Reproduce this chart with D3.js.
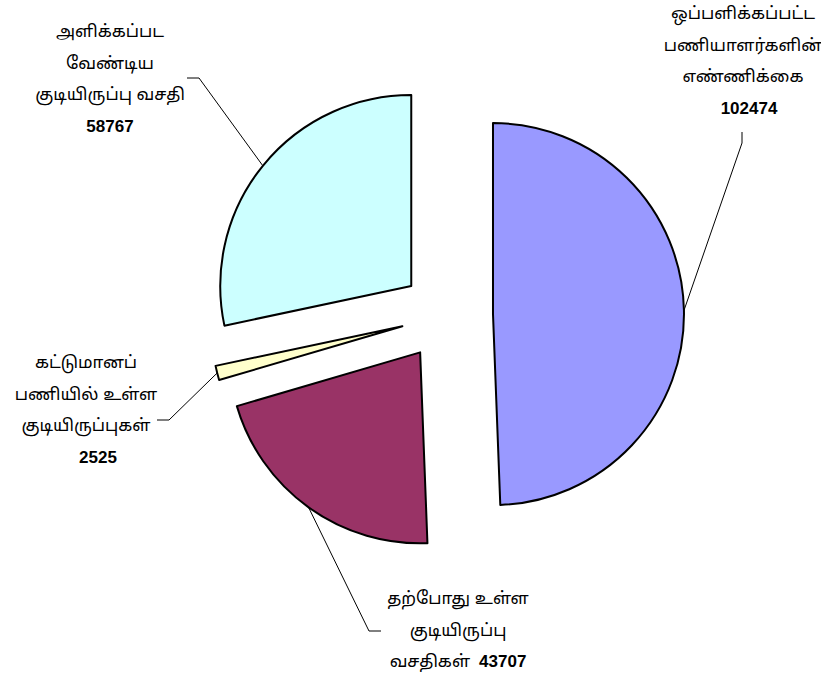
<!DOCTYPE html>
<html>
<head>
<meta charset="utf-8">
<script src="https://d3js.org/d3.v7.min.js"></script>
<style>
  body { margin: 0; background: #FFFFFF; }
  svg { display: block; }
  text { font-family: "Liberation Sans", Arial, "Noto Sans Tamil", sans-serif; font-size: 17px; fill: #000; }
  .num { font-weight: bold; }
  .slice { stroke: #000; stroke-width: 2; stroke-linejoin: round; }
  .leader { fill: none; stroke: #000; stroke-width: 1; }
</style>
</head>
<body>
<div id="chart"></div>
<script>
// data, in drawing order (clockwise from 12 o'clock)
var names = [
  ["ஒப்பளிக்கப்பட்ட", "பணியாளர்களின்", "எண்ணிக்கை"],
  ["தற்போது உள்ள", "குடியிருப்பு", "வசதிகள்"],
  ["கட்டுமானப்", "பணியில் உள்ள", "குடியிருப்புகள்"],
  ["அளிக்கப்பட", "வேண்டிய", "குடியிருப்பு வசதி"]
];
var values = [102474, 43707, 2525, 58767];
var colors = ["#9999FF", "#993366", "#FFFFCC", "#CCFFFF"];

// label placement (text centre, first baseline, number shift, leader elbow and end)
var labelPos = [
  { x: 743, y: 19,  numDx: 6,  inline: false, elbow: [742, 143], end: [742, 132] },
  { x: 458, y: 604, numDx: 9,  inline: true,  elbow: [369, 631], end: [381, 631] },
  { x: 86,  y: 368, numDx: 12, inline: false, elbow: [169, 420], end: [157, 420] },
  { x: 110, y: 37,  numDx: 0,  inline: false, elbow: [199, 78],  end: [187, 78] }
];

var width = 821, height = 681;
var cx = 447, cy = 315, radius = 191, explode = 46, lineH = 31.5;

var svg = d3.select("#chart").append("svg")
  .attr("width", width)
  .attr("height", height);

var pie = d3.pie().sort(null).value(function(d) { return d; });
var arc = d3.arc().innerRadius(0).outerRadius(radius);
var arcs = pie(values);

function offset(d, dist) {
  var a = (d.startAngle + d.endAngle) / 2;
  return [Math.sin(a) * dist, -Math.cos(a) * dist];
}

var g = svg.append("g").attr("transform", "translate(" + cx + "," + cy + ")");

// leader lines first so slices sit on top
arcs.forEach(function(d, i) {
  var o = offset(d, explode);
  var p = offset(d, radius);
  var start = [cx + o[0] + p[0], cy + o[1] + p[1]];
  var lp = labelPos[i];
  svg.append("path")
    .attr("class", "leader")
    .attr("d", d3.line()([start, lp.elbow, lp.end]));
});

g.selectAll("path.slice")
  .data(arcs)
  .enter().append("path")
  .attr("class", "slice")
  .attr("fill", function(d, i) { return colors[i]; })
  .attr("transform", function(d) {
    var o = offset(d, explode);
    return "translate(" + o[0] + "," + o[1] + ")";
  })
  .attr("d", arc);

// labels
arcs.forEach(function(d, i) {
  var lp = labelPos[i];
  var t = svg.append("text").attr("text-anchor", "middle");
  names[i].forEach(function(line, k) {
    var ts = t.append("tspan")
      .attr("x", lp.x)
      .attr("y", lp.y + k * lineH)
      .text(line);
    if (lp.inline && k === names[i].length - 1) {
      ts.append("tspan").attr("class", "num").attr("dx", lp.numDx).text(values[i]);
    }
  });
  if (!lp.inline) {
    t.append("tspan")
      .attr("class", "num")
      .attr("x", lp.x + lp.numDx)
      .attr("y", lp.y + names[i].length * lineH)
      .text(values[i]);
  }
});
</script>
</body>
</html>
